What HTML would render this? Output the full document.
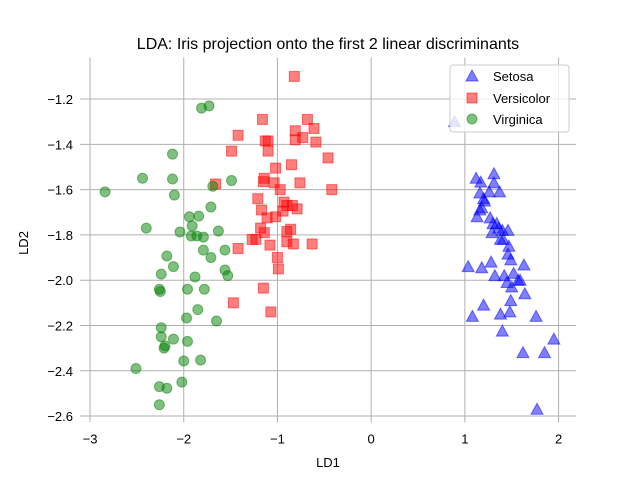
<!DOCTYPE html>
<html><head><meta charset="utf-8"><style>
body{margin:0;background:#fff;}
svg{display:block;font-family:"Liberation Sans","DejaVu Sans",sans-serif;}
</style></head><body>
<svg id="chart" width="640" height="480" viewBox="0 0 640 480" xmlns="http://www.w3.org/2000/svg">
<rect width="640" height="480" fill="#fff"/>
<g id="grid"></g>
<g id="ticks"></g>
<g id="marks"></g>
<text x="328" y="49" font-size="16" text-anchor="middle" fill="#000">LDA: Iris projection onto the first 2 linear discriminants</text>
<text x="328" y="467" font-size="13" text-anchor="middle" fill="#000">LD1</text>
<text x="0" y="0" font-size="13" text-anchor="middle" fill="#000" transform="translate(28,243) rotate(-90)">LD2</text>
<g id="legend">
<rect x="450" y="65" width="119" height="67" rx="3" fill="#fff" fill-opacity="0.8" stroke="#ccc"/>
<polygon points="472,70 478,81 466,81" fill="#0000ff" fill-opacity="0.5" stroke="#0000ff" stroke-opacity="0.5"/>
<text x="493" y="81" font-size="13">Setosa</text>
<rect x="467" y="93" width="10" height="10" fill="#ff0000" fill-opacity="0.5" stroke="#ff0000" stroke-opacity="0.5"/>
<text x="493" y="103" font-size="13">Versicolor</text>
<circle cx="472" cy="119" r="5" fill="#008000" fill-opacity="0.5" stroke="#008000" stroke-opacity="0.5"/>
<text x="493" y="124" font-size="13">Virginica</text>
</g>
</svg>
<script>
const xTicks=[-3,-2,-1,0,1,2];
const yTicks=[-1.2,-1.4,-1.6,-1.8,-2.0,-2.2,-2.4,-2.6];
const setosaX=[1.12,1.17,1.31,1.31,1.16,1.26,1.37,1.20,1.21,1.18,1.16,1.13,1.27,1.30,1.34,1.36,1.29,1.40,1.46,1.38,1.41,1.47,1.46,1.49,1.035,1.18,1.28,1.63,1.32,1.42,1.52,1.57,1.59,1.45,1.50,1.64,1.49,1.20,1.48,1.38,1.08,1.76,1.40,1.95,1.62,1.85,1.77,0.89];
const setosaY=[-1.55,-1.567,-1.53,-1.57,-1.615,-1.61,-1.61,-1.64,-1.65,-1.68,-1.69,-1.72,-1.725,-1.75,-1.75,-1.77,-1.79,-1.78,-1.78,-1.82,-1.82,-1.85,-1.885,-1.91,-1.94,-1.945,-1.92,-1.933,-1.98,-1.98,-1.97,-2.00,-2.00,-2.01,-2.03,-2.06,-2.09,-2.11,-2.14,-2.15,-2.16,-2.16,-2.225,-2.26,-2.32,-2.32,-2.57,-1.30];
const versiX=[-0.82,-1.16,-0.68,-0.61,-0.81,-1.42,-0.73,-0.81,-1.13,-1.10,-0.59,-1.49,-1.10,-0.46,-0.85,-1.02,-1.14,-1.15,-1.035,-0.76,-1.66,-0.97,-0.42,-1.21,-0.93,-0.90,-0.84,-0.79,-0.94,-1.17,-1.02,-1.11,-1.18,-0.86,-0.90,-1.14,-1.27,-1.23,-0.90,-0.83,-0.63,-1.08,-1.42,-1.00,-0.99,-1.15,-1.47,-1.07];
const versiY=[-1.10,-1.29,-1.29,-1.33,-1.34,-1.36,-1.37,-1.38,-1.385,-1.385,-1.39,-1.43,-1.43,-1.46,-1.49,-1.505,-1.55,-1.565,-1.57,-1.57,-1.575,-1.60,-1.60,-1.64,-1.655,-1.67,-1.67,-1.685,-1.695,-1.69,-1.72,-1.725,-1.77,-1.775,-1.785,-1.79,-1.82,-1.82,-1.83,-1.84,-1.84,-1.845,-1.86,-1.90,-1.95,-2.035,-2.10,-2.14];
const virgX=[-1.81,-1.73,-2.12,-2.44,-2.12,-1.49,-1.69,-2.84,-2.10,-1.71,-1.94,-1.84,-1.91,-2.40,-2.04,-1.63,-1.92,-1.86,-1.79,-1.79,-1.56,-2.18,-1.71,-2.11,-2.24,-1.88,-1.56,-1.53,-2.26,-2.25,-1.96,-1.78,-1.85,-1.97,-1.65,-2.24,-2.24,-2.11,-1.96,-2.20,-2.21,-2.00,-1.82,-2.51,-2.02,-2.26,-2.18,-2.26];
const virgY=[-1.24,-1.23,-1.443,-1.55,-1.553,-1.56,-1.585,-1.61,-1.624,-1.677,-1.72,-1.717,-1.76,-1.77,-1.787,-1.783,-1.805,-1.805,-1.81,-1.867,-1.867,-1.893,-1.90,-1.94,-1.973,-1.986,-1.955,-1.98,-2.04,-2.05,-2.04,-2.04,-2.13,-2.167,-2.18,-2.21,-2.25,-2.26,-2.27,-2.29,-2.30,-2.357,-2.353,-2.39,-2.45,-2.47,-2.477,-2.55];

const NS='http://www.w3.org/2000/svg';
const L=80,R=576,T=57.6,B=422.4;
const X0=-3.107,X1=2.186,Y0=-2.628,Y1=-1.017;
function sx(v){return L+(v-X0)/(X1-X0)*(R-L);}
function sy(v){return B-(v-Y0)/(Y1-Y0)*(B-T);}
function mk(tag,attrs,parent){const e=document.createElementNS(NS,tag);for(const k in attrs)e.setAttribute(k,attrs[k]);parent.appendChild(e);return e;}
const grid=document.getElementById('grid'),ticks=document.getElementById('ticks'),marks=document.getElementById('marks');
xTicks.forEach(v=>{
  const ln=mk('line',{x1:sx(v),x2:sx(v),y1:T,y2:B,stroke:'#b0b0b0','stroke-width':1},grid);
  
  
  const t=mk('text',{x:sx(v),y:B+21,'font-size':13,'text-anchor':'middle'},ticks);
  t.textContent=(v<0?'\u2212'+(-v):String(v));
  
  
});
yTicks.forEach(v=>{
  const ln=mk('line',{x1:L,x2:R,y1:sy(v),y2:sy(v),stroke:'#b0b0b0','stroke-width':1},grid);
  
  
  const t=mk('text',{x:L-7,y:sy(v)+5,'font-size':13,'text-anchor':'end'},ticks);
  t.textContent='\u2212'+(-v).toFixed(1);
  
  
});
setosaX.forEach((v,i)=>{
  const x=sx(v),y=sy(setosaY[i]);
  const p=mk('polygon',{points:`${x},${y-6} ${x+6},${y+5} ${x-6},${y+5}`,fill:'#0000ff','fill-opacity':0.5,stroke:'#0000ff','stroke-opacity':0.5},marks);
  
  
});
versiX.forEach((v,i)=>{
  const x=sx(v),y=sy(versiY[i]);
  const p=mk('rect',{x:x-5,y:y-5,width:10,height:10,fill:'#ff0000','fill-opacity':0.5,stroke:'#ff0000','stroke-opacity':0.5},marks);
  
  
});
virgX.forEach((v,i)=>{
  const p=mk('circle',{cx:sx(v),cy:sy(virgY[i]),r:5,fill:'#008000','fill-opacity':0.5,stroke:'#008000','stroke-opacity':0.5},marks);
  
  
});
</script>
</body></html>
